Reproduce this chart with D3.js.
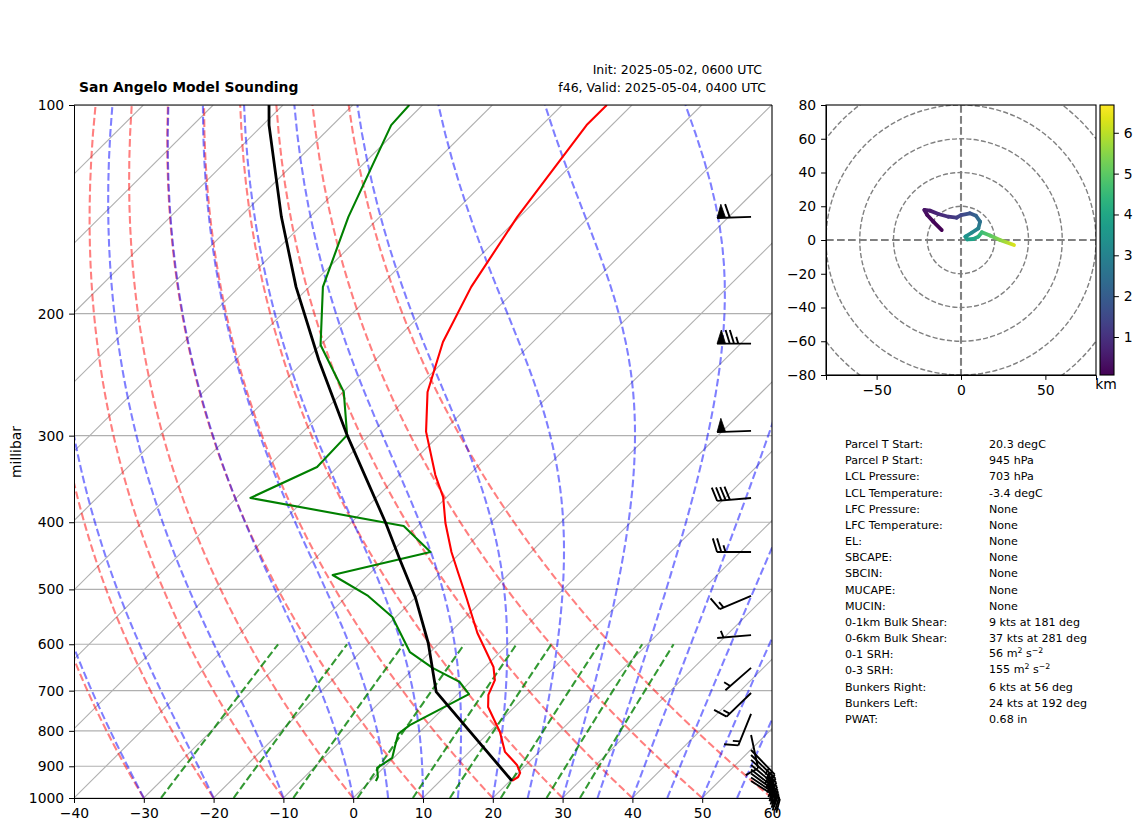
<!DOCTYPE html>
<html>
<head>
<meta charset="utf-8">
<title>San Angelo Model Sounding</title>
<script src="https://cdn.jsdelivr.net/npm/d3@7"></script>
<style>
  body { margin: 0; background: #fff; }
  svg { display: block; }
  text { font-family: "DejaVu Sans", sans-serif; fill: #000; }
  .tick text { font-size: 13.9px; font-family: "DejaVu Sans", sans-serif; }
</style>
</head>
<body>
<div id="chart"></div>
<script>
// Sounding values (hPa, degC)
const tempP = [945, 932.6, 920, 896, 858, 803, 739, 710, 676, 647, 578, 514.6, 473.5, 441.6, 401, 368, 342, 296, 259.5, 219.8, 183, 145, 106.9, 100];
const tempC = [20.3, 20.6, 20.3, 18.7, 15.1, 11.5, 6.2, 4.5, 3.3, 1.2, -6.0, -12.6, -17.4, -21.4, -26.45, -30.5, -34.8, -42.4, -47.9, -52.9, -56.8, -60.3, -63.6, -63.6];
const dewP = [945, 932.6, 905, 875, 844, 808, 785, 708, 680, 649, 616, 548, 511, 476.7, 441.6, 405, 369, 333, 299.5, 259.5, 222, 183, 145, 106.9, 100];
const dewC = [0.8, 0.5, -0.9, -0.2, -1.4, -2.8, -2.4, 1.6, -1.5, -7.4, -12.9, -20.5, -27.0, -35.1, -24.4, -32, -58, -52.9, -53.2, -59.9, -70, -78.05, -84.5, -91.6, -91.9];
const parcelP = [945, 703, 597.5, 514.6, 453.6, 401, 299.5, 233.3, 183, 145, 106.9, 100];
const parcelC = [20.3, -3.4, -11.6, -19.9, -27.6, -35, -53.2, -68.1, -81.9, -94.1, -109.1, -112];

// Wind barbs: pressure, speed (kts), direction the wind comes from (deg)
const barbP = [145, 221, 295.3, 369, 441.6, 511, 582, 649, 705.5, 756, 811, 852.6, 867, 881, 896, 910, 922, 934, 945];
const barbSpeed = [60, 75, 50, 40, 25, 15, 5, 5, 15, 15, 10, 25, 25, 25, 25, 25, 25, 25, 25];
const barbDir = [268, 270, 268, 265, 270, 247, 265, 229, 226, 202, 168, 136, 134, 132, 130, 128, 126, 124, 122];

// Hodograph
const hodoU = [-11.4, -16.4, -20, -21.7, -18.4, -13.4, -7.5, -2.6, 0, 5.3, 8.9, 11.3, 10.3, 6.3, 2.6, 3.7, 7.3, 10.3, 12.4, 17.2, 23.1, 31.4];
const hodoV = [5.9, 10.9, 14.8, 17.8, 17.4, 15.4, 13.8, 13.2, 14.8, 15.8, 14.4, 10.9, 6.9, 4.3, 2, 0.4, 0.6, 2, 4.6, 2.6, 0, -3];
const hodoH = [0.07, 0.15, 0.25, 0.4, 0.55, 0.8, 1.0, 1.25, 1.45, 1.75, 2.1, 2.5, 2.9, 3.2, 3.5, 3.7, 3.9, 4.2, 4.6, 5.0, 5.5, 6.3];
const hodoRings = [20, 40, 60, 80, 100];
const hodoXTicks = [-50, 0, 50];
const hodoYTicks = [-80, -60, -40, -20, 0, 20, 40, 60, 80];
const colorTicks = [1, 2, 3, 4, 5, 6];
const colorRange = [0.07, 6.68];

// Skew-T background families
const tempTicks = [-40, -30, -20, -10, 0, 10, 20, 30, 40, 50, 60];
const pressTicks = [100, 200, 300, 400, 500, 600, 700, 800, 900, 1000];
const isotherms = d3.range(-180, 61, 10);
const dryStarts = [-40, -30, -20, -10, 0, 10, 20, 30, 40, 50, 60];
const moistStarts = [-40, -30, -20, -10, 0, 5, 10, 15, 20, 25, 30, 35, 40, 45, 50, 55, 60];
const mixRatios = [0.0004, 0.001, 0.002, 0.004, 0.007, 0.01, 0.016, 0.024, 0.032];

// Parcel table. Units with a power are split as [text, power, text, power]
const tableLabels = ["Parcel T Start:", "Parcel P Start:", "LCL Pressure:", "LCL Temperature:", "LFC Pressure:", "LFC Temperature:", "EL:", "SBCAPE:", "SBCIN:", "MUCAPE:", "MUCIN:", "0-1km Bulk Shear:", "0-6km Bulk Shear:", "0-1 SRH:", "0-3 SRH:", "Bunkers Right:", "Bunkers Left:", "PWAT:"];
const tableValues = ["20.3 degC", "945 hPa", "703 hPa", "-3.4 degC", "None", "None", "None", "None", "None", "None", "None", "9 kts at 181 deg", "37 kts at 281 deg", ["56 m", "2", " s", "\u22122"], ["155 m", "2", " s", "\u22122"], "6 kts at 56 deg", "24 kts at 192 deg", "0.68 in"];

const svg = d3.select("#chart").append("svg")
  .attr("width", 1142)
  .attr("height", 832);
svg.append("rect").attr("width", 1142).attr("height", 832).attr("fill", "#fff");

const defs = svg.append("defs");

// ---- Skew-T axes ----
const axLeft = 74, axRight = 772, axTop = 105, axBottom = 798;
const skew = 1.0066;
const x = d3.scaleLinear().domain([-40, 60]).range([axLeft, axRight]);
const y = d3.scaleLog().domain([1000, 100]).range([axBottom, axTop]);
const fmtMinus = d => String(d).replace("-", "\u2212");

function skewX(t, p) {
  return x(t) + (axBottom - y(p)) * skew;
}

defs.append("clipPath").attr("id", "skewClip").append("rect")
  .attr("x", axLeft).attr("y", axTop).attr("width", axRight - axLeft).attr("height", axBottom - axTop);

const plot = svg.append("g").attr("clip-path", "url(#skewClip)");

// horizontal grid and skewed isotherms
plot.append("g").selectAll("line").data(pressTicks).enter().append("line")
  .attr("x1", axLeft).attr("x2", axRight)
  .attr("y1", d => y(d)).attr("y2", d => y(d))
  .attr("stroke", "#b0b0b0").attr("stroke-width", 1.1);
plot.append("g").selectAll("line").data(isotherms).enter().append("line")
  .attr("x1", d => skewX(d, 1000)).attr("y1", y(1000))
  .attr("x2", d => skewX(d, 100)).attr("y2", y(100))
  .attr("stroke", "#b0b0b0").attr("stroke-width", 1.1);

const curve = d3.line().x(d => skewX(d[0], d[1])).y(d => y(d[1]));
const levels = d3.range(1000, 99, -10);

// dry adiabats: Poisson
function dryAdiabat(t0) {
  return levels.map(p => [(t0 + 273.15) * Math.pow(p / 1000, 0.2857) - 273.15, p]);
}

// moist adiabats: integrate dT/dp up from 1000 hPa
function satMix(tK, p) {
  const es = 6.112 * Math.exp(17.67 * (tK - 273.15) / (tK - 29.65));
  return 0.622 * es / (p - es);
}
function moistSlope(tK, p) {
  const Rd = 287.05, Cp = 1005, Lv = 2.501e6, eps = 0.622;
  const rs = satMix(tK, p);
  return ((Rd * tK + Lv * rs) / (Cp + Lv * Lv * rs * eps / (Rd * tK * tK))) / p;
}
function moistAdiabat(t0) {
  let tK = t0 + 273.15;
  const pts = [];
  levels.forEach((p, i) => {
    pts.push([tK - 273.15, p]);
    if (i === levels.length - 1) return;
    const h = levels[i + 1] - p;
    const k1 = moistSlope(tK, p);
    const k2 = moistSlope(tK + h * k1 / 2, p + h / 2);
    const k3 = moistSlope(tK + h * k2 / 2, p + h / 2);
    const k4 = moistSlope(tK + h * k3, p + h);
    tK += h * (k1 + 2 * k2 + 2 * k3 + k4) / 6;
  });
  return pts;
}

// mixing ratio lines
const mixLevels = d3.range(1000, 599, -10);
function mixLine(w) {
  return mixLevels.map(p => {
    const l = Math.log(p * w / (0.622 + w) / 6.112);
    return [243.5 * l / (17.67 - l), p];
  });
}

const dash = "7.7,3.3";
function family(data, fn, color, alpha) {
  plot.append("g").selectAll("path").data(data).enter().append("path")
    .attr("d", d => curve(fn(d)))
    .attr("fill", "none")
    .attr("stroke", color)
    .attr("stroke-opacity", alpha)
    .attr("stroke-width", 2.08)
    .attr("stroke-dasharray", dash);
}
family(dryStarts, dryAdiabat, "#ff0000", 0.5);
family(moistStarts, moistAdiabat, "#0000ff", 0.5);
family(mixRatios, mixLine, "#008000", 0.8);

// the three profiles
function profile(ps, ts, color, width) {
  plot.append("path")
    .datum(ps.map((p, i) => [ts[i], p]))
    .attr("d", curve)
    .attr("fill", "none")
    .attr("stroke", color)
    .attr("stroke-width", width)
    .attr("stroke-linejoin", "round");
}
profile(tempP, tempC, "#ff0000", 2.1);
profile(dewP, dewC, "#008000", 2.1);
profile(parcelP, parcelC, "#000000", 2.8);

// axes
svg.append("g").attr("transform", `translate(0,${axBottom})`)
  .call(d3.axisBottom(x).tickValues(tempTicks).tickSize(4.9).tickPadding(4.9).tickFormat(fmtMinus));
svg.append("g").attr("transform", `translate(${axLeft},0)`)
  .call(d3.axisLeft(y).tickValues(pressTicks).tickSize(4.9).tickPadding(4.9).tickFormat(d => d));
svg.append("line").attr("x1", axRight).attr("x2", axRight).attr("y1", axTop).attr("y2", axBottom).attr("stroke", "#000").attr("stroke-width", 1.1);
svg.append("line").attr("x1", axLeft).attr("x2", axRight).attr("y1", axTop).attr("y2", axTop).attr("stroke", "#000").attr("stroke-width", 1.1);

svg.append("text")
  .attr("transform", "translate(21,452) rotate(-90)")
  .attr("text-anchor", "middle")
  .attr("font-size", 13.9)
  .text("millibar");

// ---- Barbs, same geometry rules as matplotlib ----
const barbX = axLeft + 0.97 * (axRight - axLeft);
const barbLen = 34;
function barbPath(speed, dir, px, py) {
  const a = dir * Math.PI / 180;
  const dx = Math.sin(a), dy = -Math.cos(a);
  const nx = -dy, ny = dx; // feathers go clockwise from the staff
  const pt = (t, h) => [px + dx * t + nx * h, py + dy * t + ny * h];
  const spacing = barbLen * 0.125, height = barbLen * 0.4, width = barbLen * 0.25;
  let rounded = Math.round(speed / 5) * 5;
  const nFlag = Math.floor(rounded / 50);
  rounded -= nFlag * 50;
  const nFull = Math.floor(rounded / 10);
  const half = rounded - nFull * 10 >= 5;
  let offset = barbLen;
  const staff = [pt(0, 0), pt(barbLen, 0)];
  const strokes = [staff];
  const flags = [];
  for (let i = 0; i < nFlag; i++) {
    if (offset !== barbLen) offset += spacing / 2;
    flags.push([pt(offset, 0), pt(offset - width / 2, height), pt(offset - width, 0)]);
    offset -= width + spacing;
  }
  for (let i = 0; i < nFull; i++) {
    strokes.push([pt(offset, 0), pt(offset + width / 2, height)]);
    offset -= spacing;
  }
  if (half) {
    if (offset === barbLen) offset -= 1.5 * spacing;
    strokes.push([pt(offset, 0), pt(offset + width / 4, height / 2)]);
  }
  const toD = d3.line();
  return {
    lines: strokes.map(s => toD(s)).join(""),
    flags: flags.map(s => toD(s) + "Z").join("")
  };
}
const barbs = svg.append("g");
barbP.forEach((p, i) => {
  const b = barbPath(barbSpeed[i], barbDir[i], barbX, y(p));
  barbs.append("path").attr("d", b.lines).attr("fill", "none").attr("stroke", "#000").attr("stroke-width", 1.9);
  if (b.flags) barbs.append("path").attr("d", b.flags).attr("fill", "#000").attr("stroke", "#000").attr("stroke-width", 0.8);
});

// ---- Titles ----
svg.append("text").attr("x", 79).attr("y", 92)
  .attr("font-size", 13.9).attr("font-weight", "bold")
  .text("San Angelo Model Sounding");
svg.append("text").attr("x", 762).attr("y", 74)
  .attr("font-size", 12.5).attr("text-anchor", "end")
  .text("Init: 2025-05-02, 0600 UTC");
svg.append("text").attr("x", 766).attr("y", 92)
  .attr("font-size", 12.5).attr("text-anchor", "end")
  .text("f46, Valid: 2025-05-04, 0400 UTC");

// ---- Hodograph ----
const hx = d3.scaleLinear().domain([-80, 80]).range([826, 1096]);
const hy = d3.scaleLinear().domain([-80, 80]).range([375, 105]);
const color = d3.scaleSequential(d3.interpolateViridis).domain(colorRange);

defs.append("clipPath").attr("id", "hodoClip").append("rect")
  .attr("x", 826).attr("y", 105).attr("width", 270).attr("height", 270);

const hodo = svg.append("g").attr("clip-path", "url(#hodoClip)");
hodo.selectAll("circle").data(hodoRings).enter().append("circle")
  .attr("cx", hx(0)).attr("cy", hy(0))
  .attr("r", d => hx(d) - hx(0))
  .attr("fill", "none")
  .attr("stroke", "#808080")
  .attr("stroke-width", 1.4)
  .attr("stroke-dasharray", "5.1,2.2");
hodo.append("line").attr("x1", 826).attr("x2", 1096).attr("y1", hy(0)).attr("y2", hy(0))
  .attr("stroke", "#808080").attr("stroke-width", 2.08).attr("stroke-dasharray", dash);
hodo.append("line").attr("y1", 105).attr("y2", 375).attr("x1", hx(0)).attr("x2", hx(0))
  .attr("stroke", "#808080").attr("stroke-width", 2.08).attr("stroke-dasharray", dash);

// each hodograph segment fades between the colours of its two ends
hodoU.slice(1).forEach((u, i) => {
  const x1 = hx(hodoU[i]), y1 = hy(hodoV[i]), x2 = hx(u), y2 = hy(hodoV[i + 1]);
  const grad = defs.append("linearGradient").attr("id", "seg" + i)
    .attr("gradientUnits", "userSpaceOnUse")
    .attr("x1", x1).attr("y1", y1).attr("x2", x2).attr("y2", y2);
  grad.append("stop").attr("offset", 0).attr("stop-color", color(hodoH[i]));
  grad.append("stop").attr("offset", 1).attr("stop-color", color(hodoH[i + 1]));
  hodo.append("line")
    .attr("x1", x1).attr("y1", y1).attr("x2", x2).attr("y2", y2)
    .attr("stroke", `url(#seg${i})`)
    .attr("stroke-width", 3.8)
    .attr("stroke-linecap", "round");
});

svg.append("g").attr("transform", "translate(0,375)")
  .call(d3.axisBottom(hx).tickValues(hodoXTicks).tickSize(4.9).tickPadding(4.9).tickFormat(fmtMinus));
svg.append("g").attr("transform", "translate(826,0)")
  .call(d3.axisLeft(hy).tickValues(hodoYTicks).tickSize(4.9).tickPadding(4.9).tickFormat(fmtMinus));
svg.append("rect").attr("x", 826).attr("y", 105).attr("width", 270).attr("height", 270)
  .attr("fill", "none").attr("stroke", "#000").attr("stroke-width", 1.1);

// ---- Colour bar ----
const cbY = d3.scaleLinear().domain(colorRange).range([375, 105]);
const cbGrad = defs.append("linearGradient").attr("id", "cbGrad")
  .attr("x1", 0).attr("y1", 1).attr("x2", 0).attr("y2", 0);
d3.range(0, 1.001, 0.05).forEach(f => {
  cbGrad.append("stop").attr("offset", f).attr("stop-color", d3.interpolateViridis(f));
});
svg.append("rect").attr("x", 1100).attr("y", 105).attr("width", 14).attr("height", 270)
  .attr("fill", "url(#cbGrad)").attr("stroke", "#000").attr("stroke-width", 1.1);
const cbAxis = svg.append("g").attr("transform", "translate(1114,0)")
  .call(d3.axisRight(cbY).tickValues(colorTicks).tickSize(4.9).tickPadding(4.9).tickFormat(d => d));
cbAxis.select(".domain").remove();
svg.append("text").attr("x", 1106).attr("y", 389)
  .attr("font-size", 13.9).attr("text-anchor", "middle").text("km");

// ---- Parcel table ----
const rowY = d3.scaleLinear().domain([0, tableLabels.length - 1]).range([448, 723]);
svg.append("g").selectAll("text").data(tableLabels).enter().append("text")
  .attr("x", 845).attr("y", (d, i) => rowY(i)).attr("font-size", 11.1).text(d => d);
svg.append("g").selectAll("text").data(tableValues).enter().append("text")
  .attr("x", 989).attr("y", (d, i) => rowY(i)).attr("font-size", 11.1)
  .each(function (d) {
    const cell = d3.select(this);
    if (typeof d === "string") {
      cell.text(d);
      return;
    }
    // the units carry real superscripts, as mathtext set them
    d.forEach((part, k) => {
      const isPower = k % 2 === 1;
      cell.append("tspan")
        .attr("font-size", isPower ? 7.8 : 11.1)
        .attr("dy", k === 0 ? -1 : (isPower ? -4 : 4))
        .text(part);
    });
  });
</script>
</body>
</html>
